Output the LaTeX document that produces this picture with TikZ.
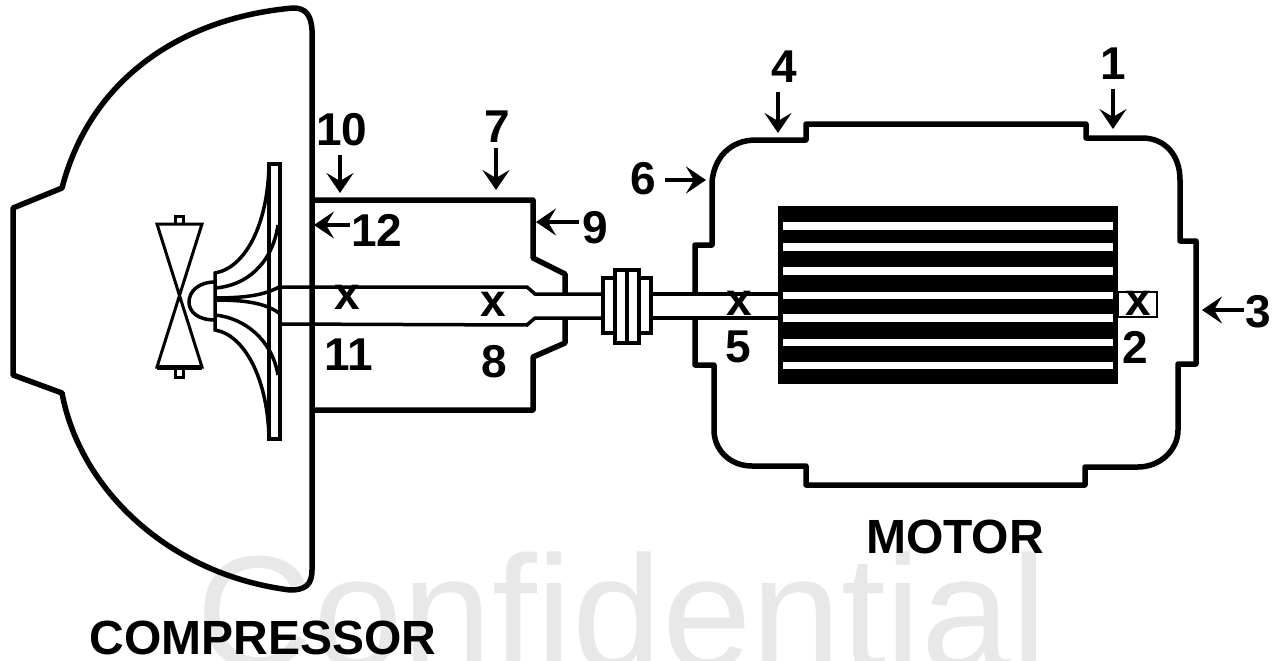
\documentclass[tikz,border=0pt]{standalone}
\usepackage{fontspec}
\setmainfont{Liberation Sans}
\usepackage{xcolor}
\usetikzlibrary{arrows.meta,calc}
\definecolor{wmgray}{gray}{0.91}
\tikzset{
  wall/.style={line width=5.5pt, line join=round},
  thin part/.style={line width=3.5pt, line join=miter},
  pointer/.style={line width=4.5pt, shorten <=9pt, -{Stealth[length=20pt,width=27pt,inset=8pt]}},
  numlabel/.style={font=\fontsize{46}{46}\selectfont\bfseries, inner sep=0pt},
  title/.style={font=\fontsize{48}{48}\selectfont\bfseries, inner sep=0pt},
  mark x/.style={font=\fontsize{46}{46}\selectfont\bfseries, inner sep=0pt}
}
\begin{document}
\begin{tikzpicture}[x=1pt,y=-1pt]
    \useasboundingbox (0,0) rectangle (1278,661);
    % watermark
    \node (W) [text=wmgray,font=\fontsize{161}{161}\selectfont,inner sep=0pt,anchor=base] at (622,668) {Confidential};
    % compressor casing
    \draw[wall] (312,570) -- (312,30) .. controls (311,14) and (305,8) .. (293,8)
      .. controls (180,18) and (90,80) .. (62,188) -- (13,208) -- (13,375) -- (62,393)
      .. controls (80,490) and (170,575) .. (290,590) .. controls (305,590) and (312,585) .. (312,570);
    % bearing housing
    \draw[wall] (312,200) -- (533,200) -- (533,258) -- (565,274) -- (565,294);
    \draw[wall] (565,320) -- (565,343) -- (533,357) -- (533,410) -- (312,410);
    % impeller
    \draw[thin part] (269,164) rectangle (280,439);
    \draw[thin part] (269,164) .. controls (268,225) and (245,268) .. (215,273) -- (215,330)
      .. controls (245,335) and (268,380) .. (269,439);
    \draw[thin part] (215,288) .. controls (245,286) and (272,265) .. (278,225);
    \draw[thin part] (215,315) .. controls (245,318) and (272,340) .. (278,375);
    \draw[line width=3.5pt] (215,298) .. controls (245,298) and (265,295) .. (279,287);
    \draw[line width=3.5pt] (215,300) .. controls (245,300) and (265,303) .. (279,313);
    \draw[thin part] (215,282) .. controls (198,282) and (189,292) .. (189,302) .. controls (189,312) and (198,320) .. (215,320);
    % inlet vanes
    \draw[line width=3pt] (157,224) -- (202,224) -- (157,367) -- (202,367) -- cycle;
    \draw[line width=5pt] (157,367) -- (202,367);
    \draw[line width=3pt] (175,224) -- (175,216) -- (183,216) -- (183,224);
    \draw[line width=3pt] (175,367) -- (175,377) -- (183,377) -- (183,367);
    % shaft and coupling
    \draw[thin part] (280,287) -- (527,287) -- (535,294) -- (603,294);
    \draw[thin part] (280,324) -- (527,325) -- (535,318) -- (603,318);
    \draw[thin part] (651,294) -- (778,294);
    \draw[thin part] (651,318) -- (778,318);
    \draw[thin part] (603,278) rectangle (651,333);
    \draw[thin part,fill=white] (615,270) rectangle (639,343);
    \draw[line width=4pt] (627,270) -- (627,343);
    % motor casing
    \draw[wall] (695,294) -- (695,245) -- (712,245) -- (712,182)
      .. controls (714,158) and (730,140) .. (756,140) -- (806,140) -- (806,124)
      -- (1086,124) -- (1086,138) -- (1142,138)
      .. controls (1165,138) and (1180,155) .. (1180,180) -- (1180,241) -- (1196,241)
      -- (1196,364) -- (1178,364) -- (1178,430)
      .. controls (1178,450) and (1160,467) .. (1138,467) -- (1085,467) -- (1085,485)
      -- (806,485) -- (806,466) -- (752,466)
      .. controls (730,466) and (714,450) .. (714,430) -- (714,365) -- (695,365) -- (695,320);
    % rotor
    \fill (778,206) rectangle (1118,384);
    \foreach \ya/\yb in {222/230,243/251,267/275,292/299,314/322,339/346,362/369}
      \fill[white] (783,\ya) rectangle (1113,\yb);
    \draw[line width=2.5pt] (1118,292) rectangle (1157,317);
    % bearing marks
    \node (x11) [mark x] at (347,297) {x};
    \node (x8) [mark x] at (493,304) {x};
    \node (x5) [mark x] at (739,303) {x};
    \node (x2) [mark x] at (1138,303) {x};
    % numbers
    \node (n1) [numlabel] at (1113,64) {1};
    \node (n2) [numlabel] at (1135,347) {2};
    \node (n3) [numlabel] at (1258,312) {3};
    \node (n4) [numlabel] at (784,67) {4};
    \node (n5) [numlabel] at (738,347) {5};
    \node (n6) [numlabel] at (643,179) {6};
    \node (n7) [numlabel] at (497,127) {7};
    \node (n8) [numlabel] at (494,362) {8};
    \node (n9) [numlabel] at (595,228) {9};
    \node (n10) [numlabel] at (342,130) {10};
    \node (n11) [numlabel] at (349,355) {11};
    \node (n12) [numlabel] at (377,230) {12};
    \node (motor) [title] at (955,537) {MOTOR};
    \node (comp) [title] at (263,638) {COMPRESSOR};
    % pointers
    \coordinate (p1) at (1113,129);
    \coordinate (p3) at (1202,310);
    \coordinate (p4) at (778,133);
    \coordinate (p6) at (706,180);
    \coordinate (p7) at (496,190);
    \coordinate (p9) at (536,222);
    \coordinate (p10) at (340,193);
    \coordinate (p12) at (314,225);
    \draw[pointer] (n1.south -| p1) -- (p1);
    \draw[pointer,shorten <=1pt] (n3.west |- p3) -- (p3);
    \draw[pointer] (n4.south -| p4) -- (p4);
    \draw[pointer] (n6.east |- p6) -- (p6);
    \draw[pointer,shorten <=5pt] (n7.south -| p7) -- (p7);
    \draw[pointer,shorten <=3pt] (n9.west |- p9) -- (p9);
    \draw[pointer] (n10.south -| p10) -- (p10);
    \draw[pointer,shorten <=1pt] (n12.west |- p12) -- (p12);
\end{tikzpicture}
\end{document}
